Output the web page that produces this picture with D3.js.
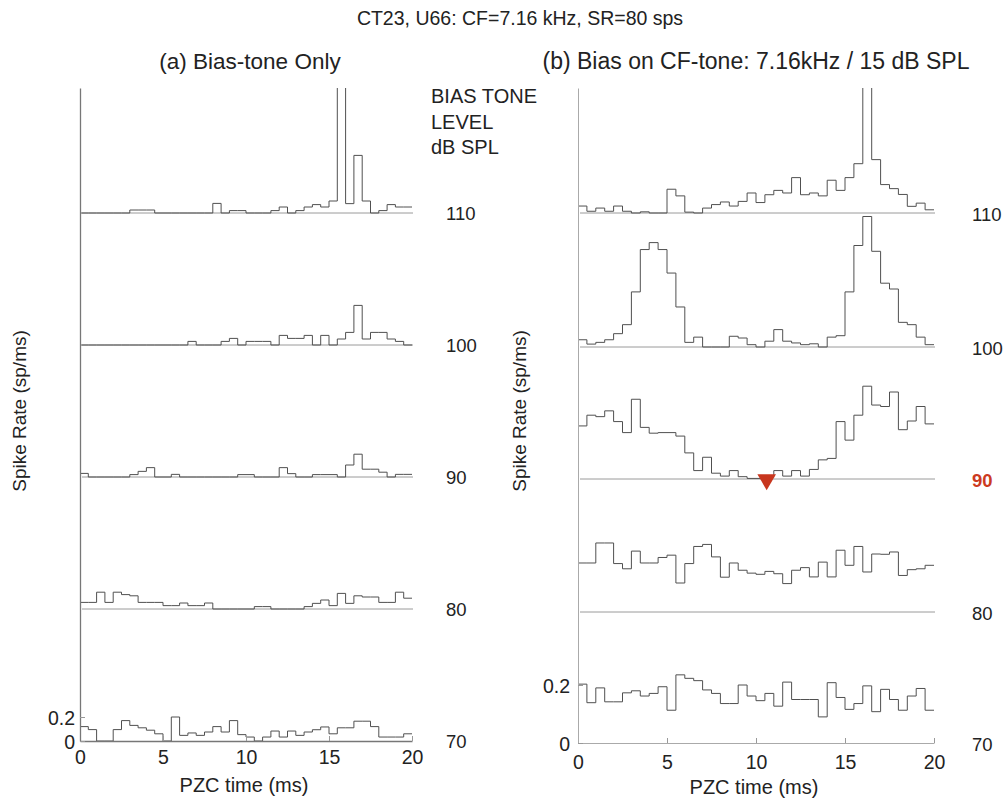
<!DOCTYPE html>
<html>
<head>
<meta charset="utf-8">
<script src="https://cdn.jsdelivr.net/npm/d3@7"></script>
<style>
  body { margin: 0; background: #fff; }
  text { font-family: "Liberation Sans", Arial, sans-serif; fill: #222; }
</style>
</head>
<body>
<script>
// bias tone levels (dB SPL), top to bottom
var levels = ["110", "100", "90", "80", "70"];

// PZC histogram bins, 0.5 ms wide, 0..20 ms (40 bins), spike rate in sp/ms
var binWidth = 0.5;

// (a) bias-tone only
var biasOnly110 = [0,0,0,0,0,0,0.025,0.025,0.025,0, 0,0,0,0,0,0,0.08,0,0.02,0.02,
                   0,0,0,0.02,0.05,0,0.02,0.05,0.07,0.05, 0.1,1.2,0.078,0.48,0.1,0,0.02,0.07,0.05,0.05];
var biasOnly100 = [0,0,0,0,0,0,0,0,0,0, 0,0,0,0.03,0,0,0,0.03,0.055,0,
                   0.03,0.03,0.03,0,0.08,0.055,0.055,0.08,0,0.08, 0,0.05,0.105,0.33,0.05,0.105,0.105,0.05,0.03,0];
var biasOnly90  = [0.03,0,0,0,0,0,0.02,0.047,0.078,0, 0,0.022,0,0,0,0,0,0,0,0.02,
                   0.02,0,0,0,0.078,0.028,0,0,0.02,0.02, 0.02,0,0.1,0.19,0.065,0.065,0.04,0,0.022,0.022];
var biasOnly80  = [0.055,0.055,0.14,0.055,0.14,0.12,0.11,0.055,0.055,0.055, 0.028,0.028,0.05,0.028,0.028,0.05,0,0,0,0,
                   0,0.02,0.02,0,0,0,0,0.02,0.047,0.075, 0.028,0.13,0.047,0.11,0.1,0.1,0.055,0.055,0.14,0.09];
var biasOnly70  = [0.12,0.095,0,0,0.095,0.17,0.13,0.11,0.09,0.06, 0,0.2,0.047,0.067,0.047,0.075,0.12,0.075,0.17,0.053,
                   0.033,0,0.033,0.083,0.033,0.083,0.047,0.075,0.094,0.117, 0.06,0.11,0.11,0.165,0.165,0.12,0.033,0.033,0.033,0.06];

// (b) bias on CF-tone 7.16 kHz / 15 dB SPL
var cfTone110 = [0.024,0.006,0.017,0.006,0.024,0.006,0,0.004,0,0, 0.082,0.059,0.003,0,0.017,0.029,0.038,0.024,0.04,0.069,
                 0.036,0.063,0.078,0.069,0.122,0.063,0.069,0.059,0.113,0.078, 0.122,0.17,0.6,0.184,0.098,0.084,0.064,0.023,0.034,0.011];
var cfTone100 = [0.025,0.01,0.016,0.025,0.046,0.077,0.19,0.336,0.36,0.336, 0.255,0.138,0.016,0.034,0,0,0,0.037,0.031,0.008,
                 0,0.02,0.06,0.02,0.014,0.008,0.011,0,0.034,0.039, 0.19,0.35,0.45,0.33,0.22,0.2,0.085,0.077,0.034,0.008];
var cfTone90  = [0.183,0.22,0.215,0.235,0.198,0.16,0.275,0.178,0.158,0.16, 0.16,0.148,0.09,0.029,0.075,0.02,0.01,0.029,0.008,0.002,
                 0.002,0.006,0.029,0.01,0.029,0.01,0.033,0.066,0.071,0.198, 0.134,0.22,0.32,0.255,0.25,0.3,0.17,0.2,0.25,0.19];
var cfTone80  = [0.169,0.169,0.238,0.238,0.167,0.149,0.21,0.169,0.169,0.188, 0.196,0.1,0.167,0.226,0.233,0.19,0.12,0.169,0.144,0.134,
                 0.13,0.14,0.132,0.098,0.144,0.153,0.121,0.172,0.121,0.213, 0.161,0.226,0.138,0.2,0.199,0.207,0.126,0.146,0.149,0.161];
var cfTone70  = [0.203,0.139,0.19,0.142,0.142,0.173,0.18,0.162,0.171,0.194, 0.113,0.235,0.223,0.215,0.183,0.171,0.136,0.136,0.2,0.162,
                 0.146,0.171,0.127,0.21,0.15,0.15,0.15,0.09,0.208,0.157, 0.116,0.136,0.197,0.108,0.185,0.15,0.113,0.162,0.188,0.113];

// minimum of the 90 dB trace in (b), in ms
var minMarkerTime = 10.6;

var xTicks = [0, 5, 10, 15, 20];
var yTicks = [0, 0.2];

var svg = d3.select("body").append("svg")
    .attr("width", 1008)
    .attr("height", 801);

// titles
svg.append("text").attr("x", 520).attr("y", 25).attr("text-anchor", "middle")
    .style("font-size", "19.5px").text("CT23, U66: CF=7.16 kHz, SR=80 sps");
svg.append("text").attr("x", 250).attr("y", 69).attr("text-anchor", "middle")
    .style("font-size", "22.5px").text("(a) Bias-tone Only");
svg.append("text").attr("x", 756).attr("y", 69).attr("text-anchor", "middle")
    .style("font-size", "23px").text("(b) Bias on CF-tone: 7.16kHz / 15 dB SPL");

var legend = svg.append("text").style("font-size", "20px");
["BIAS TONE", "LEVEL", "dB SPL"].forEach(function(t, i) {
  legend.append("tspan").attr("x", 431).attr("y", 103 + i * 25.5).text(t);
});

function drawPanel(p) {
  var x = d3.scaleLinear().domain([0, 20]).range([p.x0, p.x1]);
  var y = d3.scaleLinear().domain([0, p.yMax]).range([p.yBottom, 88]);

  var g = svg.append("g");

  g.append("clipPath").attr("id", p.id)
    .append("rect")
      .attr("x", p.x0 - 2).attr("y", 88)
      .attr("width", p.x1 - p.x0 + 6).attr("height", p.yBottom - 86);

  // baselines
  g.selectAll(".base")
    .data(p.offsets.slice(0, 4))
    .enter().append("line")
      .attr("x1", x(0) + 2).attr("x2", x(20) + 1)
      .attr("y1", function(d) { return y(d); })
      .attr("y2", function(d) { return y(d); })
      .attr("stroke", "#9a9a9a").attr("stroke-width", 1);

  var line = d3.line()
    .x(function(d) { return x(d[0]); })
    .y(function(d) { return d[1]; })
    .curve(d3.curveStepAfter);

  g.selectAll(".trace")
    .data(p.series)
    .enter().append("path")
      .attr("clip-path", "url(#" + p.id + ")")
      .attr("fill", "none")
      .attr("stroke", "#505050")
      .attr("stroke-width", 1)
      .attr("d", function(vals, k) {
        var off = p.offsets[k];
        var pts = vals.map(function(v, i) { return [i * binWidth, y(off + v)]; });
        pts.push([20, y(off + vals[vals.length - 1])]);
        return line(pts);
      });

  // axes
  var xAxis = g.append("g")
    .attr("transform", "translate(0," + p.yBottom + ")")
    .call(d3.axisBottom(x).tickValues(xTicks).tickSize(-5).tickSizeOuter(0).tickPadding(p.xPad));
  var yAxis = g.append("g")
    .attr("transform", "translate(" + p.x0 + ",0)")
    .call(d3.axisLeft(y).tickValues(yTicks).tickSize(-5).tickSizeOuter(0).tickPadding(p.yPad)
      .tickFormat(function(d) { return d === 0 ? "0" : "0.2"; }));
  [xAxis, yAxis].forEach(function(a) {
    a.select(".domain").attr("stroke", p.axisColor).attr("stroke-width", p.axisWidth);
    a.selectAll(".tick line").attr("stroke", "#999");
    a.selectAll(".tick text").style("font-size", "19.5px").attr("fill", "#222");
  });
  yAxis.selectAll(".tick text").attr("dy", "0.36em");

  g.append("text")
    .attr("x", (p.x0 + p.x1) / 2 - 2).attr("y", p.yBottom + 51)
    .attr("text-anchor", "middle").style("font-size", "20px")
    .text("PZC time (ms)");
  g.append("text")
    .attr("transform", "translate(" + p.yLabelX + ",411) rotate(-90)")
    .attr("text-anchor", "middle").style("font-size", "19px")
    .text("Spike Rate (sp/ms)");

  // level labels
  g.selectAll(".lvl")
    .data(levels)
    .enter().append("text")
      .attr("x", p.labelX)
      .attr("y", function(d, k) { return y(p.offsets[k]) + p.labelDy; })
      .attr("dy", "0.36em")
      .style("font-size", "18.5px")
      .style("font-weight", function(d) { return p.highlight === d ? "bold" : "normal"; })
      .style("fill", function(d) { return p.highlight === d ? "#cc3a1f" : "#222"; })
      .text(function(d) { return d; });

  return { x: x, y: y, g: g };
}

var left = drawPanel({
  id: "clipA", x0: 80, x1: 412, yBottom: 741, yMax: 653 / 120,
  offsets: [4.4, 3.3, 2.2, 1.1, 0],
  series: [biasOnly110, biasOnly100, biasOnly90, biasOnly80, biasOnly70],
  xPad: 9, yPad: 5, yLabelX: 26, labelX: 446, labelDy: 0,
  axisColor: "#777", axisWidth: 1.3
});

var right = drawPanel({
  id: "clipB", x0: 578, x1: 934, yBottom: 743, yMax: 655 / 290,
  offsets: [530 / 290, 396 / 290, 264 / 290, 131 / 290, 0],
  series: [cfTone110, cfTone100, cfTone90, cfTone80, cfTone70],
  xPad: 12, yPad: 8, yLabelX: 526, labelX: 972, labelDy: 1,
  axisColor: "#aaa", axisWidth: 1, highlight: "90"
});

// red marker at the minimum of the 90 dB trace
right.g.append("path")
  .attr("d", d3.symbol().type(d3.symbolTriangle).size(150))
  .attr("transform", "translate(" + right.x(minMarkerTime) + "," + (right.y(264 / 290) + 0.5) + ") rotate(180)")
  .attr("fill", "#c8361e");
</script>
</body>
</html>
